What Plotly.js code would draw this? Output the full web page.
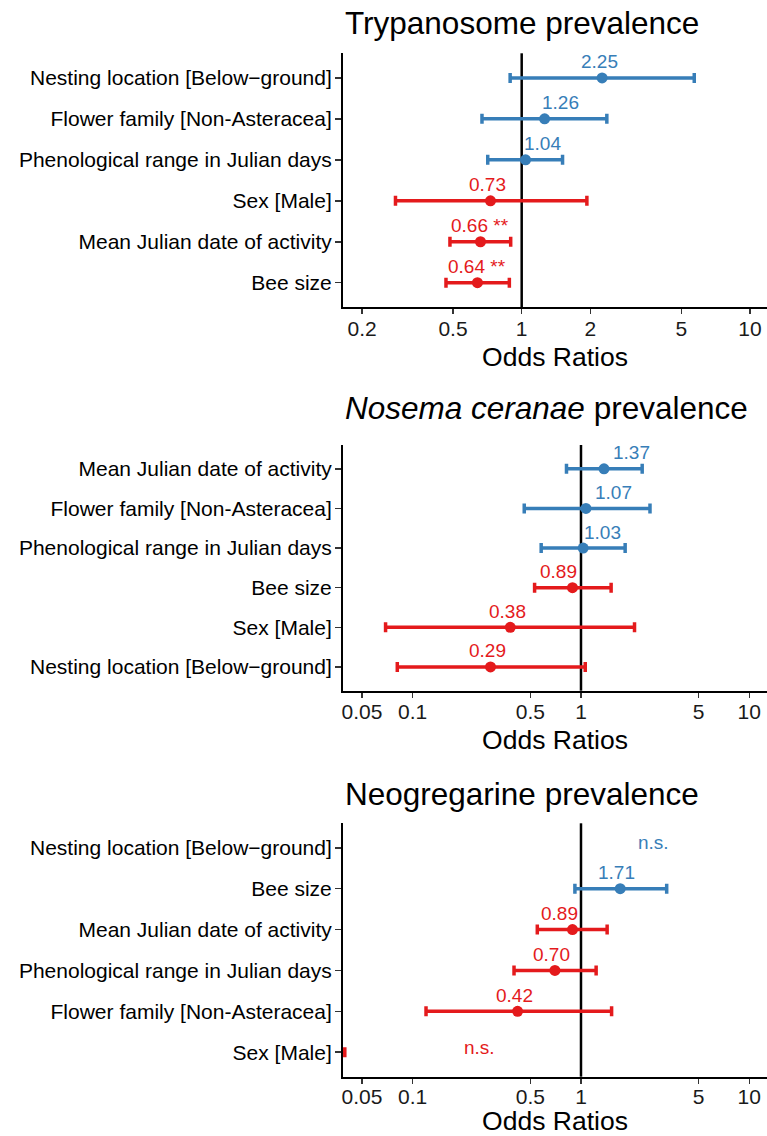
<!DOCTYPE html>
<html><head><meta charset="utf-8">
<script src="https://cdn.plot.ly/plotly-3.0.1.min.js"></script>
<style>html,body{margin:0;padding:0;background:#fff;}#chart{width:767px;height:1136px;}</style>
</head><body><div id="chart"></div>
<script>
// ---------- DATA ----------
// Panel 1: Trypanosome prevalence (rows top to bottom)
const tryLabels = ["Nesting location [Below−ground]","Flower family [Non-Asteracea]","Phenological range in Julian days","Sex [Male]","Mean Julian date of activity","Bee size"];
const tryEst = [2.25, 1.26, 1.04, 0.73, 0.66, 0.64];
const tryLo  = [0.89, 0.67, 0.71, 0.28, 0.485, 0.466];
const tryHi  = [5.70, 2.36, 1.51, 1.93, 0.895, 0.883];
const tryText = ["2.25","1.26","1.04","0.73","0.66 **","0.64 **"];

// Panel 2: Nosema ceranae prevalence
const nosLabels = ["Mean Julian date of activity","Flower family [Non-Asteracea]","Phenological range in Julian days","Bee size","Sex [Male]","Nesting location [Below−ground]"];
const nosEst = [1.37, 1.07, 1.03, 0.89, 0.38, 0.29];
const nosLo  = [0.82, 0.46, 0.58, 0.53, 0.069, 0.081];
const nosHi  = [2.31, 2.57, 1.83, 1.51, 2.08, 1.06];
const nosText = ["1.37","1.07","1.03","0.89","0.38","0.29"];

// Panel 3: Neogregarine prevalence (off-scale rows marked n.s.)
const neoLabels = ["Nesting location [Below−ground]","Bee size","Mean Julian date of activity","Phenological range in Julian days","Flower family [Non-Asteracea]","Sex [Male]"];
const neoEst = [null, 1.71, 0.89, 0.70, 0.42, 0.000001];
const neoLo  = [null, 0.92, 0.55, 0.40, 0.12, 0.0000001];
const neoHi  = [null, 3.23, 1.43, 1.23, 1.52, 0.0395];
const neoText = ["n.s.","1.71","0.89","0.70","0.42","n.s."];
const neoNsAt = [2.68, null, null, null, null, 0.249];   // where the "n.s." text sits

const ticksTry = [0.2, 0.5, 1, 2, 5, 10];
const ticksOther = [0.05, 0.1, 0.5, 1, 5, 10];
const tickTextTry = ["0.2","0.5","1","2","5","10"];
const tickTextOther = ["0.05","0.1","0.5","1","5","10"];

// ---------- STYLE ----------
const BLUE = "#377EB8", RED = "#E41A1C";
const FONT = "Liberation Sans, Arial, Helvetica, sans-serif";
const H = 1136;
const py = px => 1 - px / H;

const panels = [
  {title: "Trypanosome prevalence", labels: tryLabels, est: tryEst, lo: tryLo, hi: tryHi, text: tryText, nsAt: null,
   ticks: ticksTry, tickText: tickTextTry, range: [-0.7827, 1.0745], dom: [py(307.3), py(53.3)], titleY: 23,
   nudge: [-3, 16, 17, -3, 0, 0], labStand: -4, titleStand: 9},
  {title: "<i>Nosema ceranae</i> prevalence", labels: nosLabels, est: nosEst, lo: nosLo, hi: nosHi, text: nosText, nsAt: null,
   ticks: ticksOther, tickText: tickTextOther, range: [-1.4141, 1.1052], dom: [py(690.7), py(445)], titleY: 407.5,
   nudge: [27, 28, 19, -14, -3, -3], labStand: -4, titleStand: 9},
  {title: "Neogregarine prevalence", labels: neoLabels, est: neoEst, lo: neoLo, hi: neoHi, text: neoText, nsAt: neoNsAt,
   ticks: ticksOther, tickText: tickTextOther, range: [-1.4141, 1.1052], dom: [py(1076.7), py(823.3)], titleY: 793.5,
   nudge: [0, -4, -13, -3, -3, 0], labStand: -5, titleStand: 12}
];

const traces = [], annotations = [], shapes = [];
const layout = {
  width: 767, height: 1136,
  margin: {l: 343, r: 0, t: 0, b: 0},
  paper_bgcolor: "#fff", plot_bgcolor: "#fff",
  showlegend: false,
  font: {family: FONT, color: "#1a1a1a"}
};

panels.forEach((p, k) => {
  const n = k + 1;
  const xa = "x" + n, ya = "y" + n;
  [[BLUE, v => v > 1], [RED, v => v < 1]].forEach(([col, test]) => {
    const idx = p.est.map((v, i) => i).filter(i => p.est[i] !== null && test(p.est[i]));
    traces.push({
      type: "scatter", mode: "markers",
      x: idx.map(i => p.est[i]),
      y: idx.map(i => p.labels[i]),
      xaxis: xa, yaxis: ya,
      marker: {color: col, size: 11},
      error_x: {type: "data", symmetric: false,
        array: idx.map(i => p.hi[i] - p.est[i]),
        arrayminus: idx.map(i => p.est[i] - p.lo[i]),
        color: col, thickness: 3.5, width: 5},
      hoverinfo: "skip", cliponaxis: true
    });
  });

  const axKey = n === 1 ? "" : String(n);
  layout["xaxis" + axKey] = {
    type: "log", range: p.range, domain: [0, 1], anchor: ya,
    tickmode: "array", tickvals: p.ticks, ticktext: p.tickText,
    showline: true, linecolor: "#000", linewidth: 2,
    ticks: "outside", ticklen: 5, tickwidth: 1.5, tickcolor: "#333",
    tickfont: {size: 21, color: "#1a1a1a", family: FONT},
    ticklabelstandoff: p.labStand,
    showgrid: false, zeroline: false, fixedrange: true,
    title: {text: "Odds Ratios", font: {size: 26.5, color: "#000", family: FONT}, standoff: p.titleStand}
  };
  layout["yaxis" + axKey] = {
    type: "category", categoryarray: p.labels, categoryorder: "array",
    range: [5.6, -0.6], domain: p.dom, anchor: xa,
    showline: true, linecolor: "#000", linewidth: 2,
    ticks: "outside", ticklen: 6, tickwidth: 1.5, tickcolor: "#333",
    tickfont: {size: 21, color: "#000", family: FONT},
    ticklabelstandoff: -1,
    showgrid: false, zeroline: false, fixedrange: true
  };

  shapes.push({type: "line", xref: xa, yref: ya + " domain", x0: 1, x1: 1, y0: 0, y1: 1,
    line: {color: "#000", width: 2.5}, layer: "below"});

  annotations.push({xref: "paper", yref: "paper", x: 0, y: py(p.titleY), xanchor: "left", yanchor: "middle",
    text: p.title, showarrow: false, font: {size: 31.5, color: "#000", family: FONT}});

  p.text.forEach((t, i) => {
    const isNs = p.nsAt && p.nsAt[i] !== null;
    const xv = isNs ? p.nsAt[i] : p.est[i];
    const col = isNs ? (i === 0 ? BLUE : RED) : (p.est[i] > 1 ? BLUE : RED);
    annotations.push({xref: xa, yref: ya, x: Math.log10(xv), y: i,
      text: t, showarrow: false, xanchor: "center", yanchor: "middle",
      xshift: p.nudge[i], yshift: isNs ? 5 : 16,
      font: {size: 19, color: col, family: FONT}});
  });
});

layout.annotations = annotations;
layout.shapes = shapes;

Plotly.newPlot("chart", traces, layout, {displayModeBar: false, staticPlot: true});
</script>
</body></html>
